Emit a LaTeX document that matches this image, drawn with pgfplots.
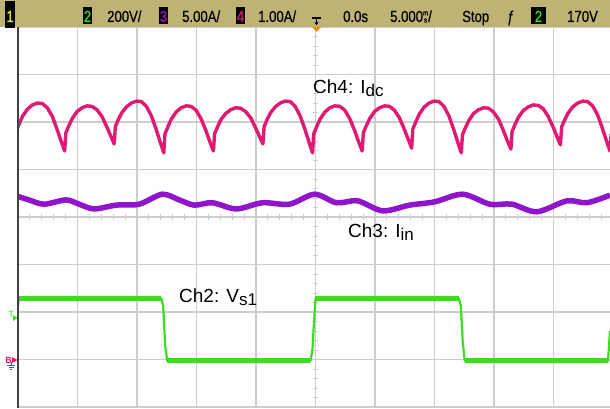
\documentclass[border=0pt]{standalone}
\usepackage{pgfplots}
\pgfplotsset{compat=1.18}
\usetikzlibrary{arrows.meta}
\usepackage{fontspec}
\setmainfont{Liberation Sans}
\newfontfamily\barfont[FakeStretch=0.82, FakeBold=0.6]{Liberation Sans}

\definecolor{chtwo}{RGB}{60,220,30}
\definecolor{chthree}{RGB}{145,20,205}
\definecolor{chfour}{RGB}{225,25,115}
\definecolor{chone}{RGB}{235,235,30}
\definecolor{barbg}{RGB}{190,179,117}
\definecolor{gridgray}{RGB}{205,205,205}
\definecolor{trigorange}{RGB}{240,140,20}

% channel number badge in the status bar
\newcommand{\chbox}[4]{% x-left, width, colour, digit
  \fill[black] (#1,384) rectangle ++(#2,17);
  \node[text=#3, font=\barfont\fontsize{16}{16}\selectfont, anchor=base, inner sep=0pt]
    at (#1+#2/2,386) {#4};}
% stacked "ms" unit glyph
\newcommand{\msunit}{\raisebox{-0.5pt}{\fontsize{7.5}{6.5}\selectfont\shortstack[c]{m\\s}}}

\begin{document}
\begin{tikzpicture}[x=1pt,y=1pt]
\useasboundingbox (0,0) rectangle (610,408);
\fill[white] (0,0) rectangle (610,408);

\begin{axis}[
  at={(18pt,1pt)}, anchor=south west, scale only axis,
  width=592pt, height=380pt,
  xmin=-25, xmax=24.75, ymin=-4, ymax=4,
  xtick={-25,-20,...,20}, ytick={-4,-3,...,4},
  xticklabels={}, yticklabels={}, major tick length=0pt,
  grid=major, major grid style={gridgray, line width=1.1pt},
  axis line style={draw=none}, clip=true]

% fine graduations on the centre lines
\pgfplotsinvokeforeach{-24,...,24}{\draw[gridgray, line width=1pt] (axis cs:#1,-0.065) -- (axis cs:#1,0.065);}
\pgfplotsinvokeforeach{-3.8,-3.6,...,3.8}{\draw[gridgray, line width=1pt] (axis cs:-0.25,#1) -- (axis cs:0.25,#1);}

% Ch4: DC-link current (divisions vs ms)
\addplot[chfour, line width=3.4pt, line join=round] coordinates {
(-25.25,1.40) (-25.15,1.80) (-24.92,1.95) (-24.62,2.12) (-24.21,2.27) (-23.79,2.36) (-23.37,2.40)
(-22.96,2.39) (-22.54,2.30) (-22.12,2.12) (-21.71,1.84) (-21.37,1.59)
(-21.08,1.39) (-20.98,1.77) (-20.75,1.91) (-20.45,2.07) (-20.04,2.22) (-19.62,2.30) (-19.20,2.34)
(-18.79,2.33) (-18.37,2.26) (-17.95,2.12) (-17.54,1.90) (-17.20,1.70)
(-16.92,1.54) (-16.82,1.90) (-16.59,2.04) (-16.29,2.19) (-15.88,2.32) (-15.46,2.40) (-15.04,2.44)
(-14.63,2.43) (-14.21,2.33) (-13.79,2.13) (-13.38,1.84) (-13.04,1.57)
(-12.75,1.35) (-12.65,1.75) (-12.42,1.89) (-12.12,2.06) (-11.71,2.21) (-11.29,2.30) (-10.87,2.34)
(-10.46,2.33) (-10.04,2.25) (-9.62,2.07) (-9.21,1.82) (-8.87,1.58)
(-8.58,1.39) (-8.48,1.75) (-8.25,1.89) (-7.95,2.05) (-7.54,2.18) (-7.12,2.26) (-6.70,2.30)
(-6.29,2.29) (-5.87,2.22) (-5.45,2.09) (-5.04,1.88) (-4.70,1.69)
(-4.42,1.54) (-4.32,1.90) (-4.09,2.04) (-3.79,2.19) (-3.38,2.32) (-2.96,2.40) (-2.54,2.44)
(-2.13,2.43) (-1.71,2.33) (-1.29,2.13) (-0.88,1.84) (-0.54,1.57)
(-0.25,1.35) (-0.15,1.75) (0.08,1.89) (0.38,2.06) (0.79,2.21) (1.21,2.30) (1.63,2.34)
(2.04,2.33) (2.46,2.25) (2.88,2.07) (3.29,1.82) (3.63,1.58)
(3.92,1.39) (4.02,1.77) (4.25,1.91) (4.55,2.07) (4.96,2.22) (5.38,2.30) (5.80,2.34)
(6.21,2.33) (6.63,2.25) (7.05,2.09) (7.46,1.85) (7.80,1.63)
(8.08,1.45) (8.18,1.85) (8.41,1.99) (8.71,2.16) (9.12,2.31) (9.54,2.40) (9.96,2.44)
(10.37,2.43) (10.79,2.33) (11.21,2.13) (11.62,1.84) (11.96,1.57)
(12.25,1.35) (12.35,1.73) (12.58,1.87) (12.88,2.03) (13.29,2.18) (13.71,2.26) (14.13,2.30)
(14.54,2.29) (14.96,2.21) (15.38,2.06) (15.79,1.82) (16.13,1.60)
(16.42,1.43) (16.52,1.80) (16.75,1.94) (17.05,2.10) (17.46,2.24) (17.88,2.32) (18.30,2.36)
(18.71,2.35) (19.13,2.28) (19.55,2.12) (19.96,1.90) (20.30,1.69)
(20.58,1.52) (20.68,1.89) (20.91,2.03) (21.21,2.18) (21.62,2.32) (22.04,2.40) (22.46,2.44)
(22.87,2.43) (23.29,2.34) (23.71,2.15) (24.12,1.86) (24.46,1.60)
(24.75,1.39) (24.85,1.75)
};

% Ch3: input current
\addplot[chthree, line width=5.5pt, smooth, tension=0.5] coordinates {
(-25.09,0.44) (-24.08,0.36) (-22.81,0.27) (-20.96,0.36) (-19.87,0.27) (-18.60,0.17)
(-16.75,0.25) (-14.82,0.27) (-12.88,0.48) (-11.45,0.36) (-10.19,0.25) (-8.67,0.30)
(-6.65,0.17) (-4.46,0.30) (-2.19,0.27) (-0.08,0.48) (1.77,0.30) (3.54,0.34)
(5.64,0.13) (7.91,0.25) (10.02,0.32) (12.37,0.48) (14.65,0.27) (16.50,0.27)
(18.60,0.11) (21.13,0.34) (22.81,0.30) (24.75,0.46)
};

% Ch2: switch voltage
\addplot[chtwo, line width=2.2pt, line join=round] coordinates {
(-25.0,-1.87) (-24.9,-1.71) (-12.96,-1.71) (-12.80,-1.87) (-12.63,-2.72) (-12.46,-3.03)
(-0.42,-3.03) (-0.25,-2.78) (-0.17,-2.40) (0.0,-1.71) (12.04,-1.71) (12.21,-1.87)
(12.37,-2.61) (12.54,-3.03) (24.58,-3.03) (24.75,-2.40)
};
% noise band on the flat levels
\addplot[chtwo, line width=5pt] coordinates {(-24.9,-1.71) (-12.96,-1.71)};
\addplot[chtwo, line width=5pt] coordinates {(-12.46,-3.03) (-0.42,-3.03)};
\addplot[chtwo, line width=5pt] coordinates {(0.0,-1.71) (12.04,-1.71)};
\addplot[chtwo, line width=5pt] coordinates {(12.54,-3.03) (24.58,-3.03)};
\end{axis}

% left frame edge
\draw[black!75, line width=1.6pt] (18,0) -- (18,381);

% status bar
\fill[barbg] (0,381) rectangle (610,408);
\fill[black] (5,380) rectangle (15,407);
\node[text=chone, font=\barfont\fontsize{16}{16}\selectfont, anchor=base, inner sep=0pt] at (10,386) {1};
\chbox{83}{9}{chtwo}{2}
\chbox{159}{9}{chthree}{3}
\chbox{236}{9}{chfour}{4}
\chbox{531}{15}{chtwo}{2}
\begin{scope}[every node/.style={anchor=base west, inner sep=0pt, text=black,
    font=\barfont\fontsize{16}{16}\selectfont}]
  \node at (107,386) {200V/};
  \node at (182,386) {5.00A/};
  \node at (258,386) {1.00A/};
  \node at (343,386) {0.0s};
  \node at (390,386) {5.000\msunit/};
  \node at (462,386) {Stop};
  \node at (507,386) {ƒ};
  \node at (567,386) {170V};
\end{scope}
% trigger-position icon and marker
\draw[black, line width=1.2pt] (312,390) -- (321,390);
\draw[black, line width=1.2pt, -{Stealth[length=3pt,width=4pt]}] (316.5,390) -- (316.5,383);
\fill[trigorange] (312,381) -- (321,381) -- (316.5,376) -- cycle;

% trigger-level and ground markers
\node[text=chtwo, font=\fontsize{9}{9}\selectfont, inner sep=0pt] at (11,94) {T};
\fill[chtwo] (13,93) -- (13,87) -- (17.5,90) -- cycle;
\node[text=chfour, font=\bfseries\fontsize{9}{9}\selectfont, inner sep=0pt] at (8.5,48) {B};
\fill[chfour] (12,51) -- (12,45) -- (17.5,48) -- cycle;
\draw[chfour, line width=0.8pt] (11,46) -- (11,43) (7,43) -- (15,43) (8.5,41) -- (13.5,41) (10,39) -- (12,39);

% trace captions
\node[anchor=base west, inner sep=0pt, font=\fontsize{19}{22}\selectfont] at (313,315)
  {Ch4: I\raisebox{-3pt}{\fontsize{17}{17}\selectfont dc}};
\node[anchor=base west, inner sep=0pt, font=\fontsize{19}{22}\selectfont] at (348,171)
  {Ch3: I\raisebox{-3pt}{\fontsize{17}{17}\selectfont in}};
\node[anchor=base west, inner sep=0pt, font=\fontsize{19}{22}\selectfont] at (179,106)
  {Ch2: V\raisebox{-3pt}{\fontsize{17}{17}\selectfont s1}};
\end{tikzpicture}
\end{document}
